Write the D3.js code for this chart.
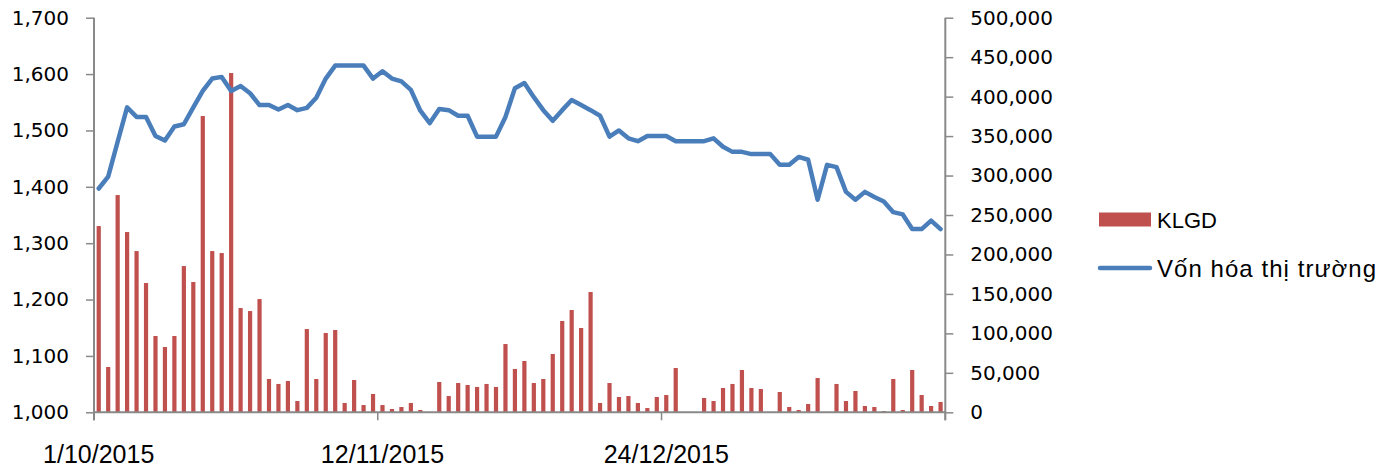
<!DOCTYPE html>
<html>
<head>
<meta charset="utf-8">
<script src="https://cdn.jsdelivr.net/npm/d3@7"></script>
<style>
  body { margin: 0; background: #fff; }
  svg { display: block; }
</style>
</head>
<body>
<svg id="chart" width="1398" height="472"></svg>
<script>
"use strict";

// trading days (category axis)
const dates = [
  "1/10/2015","2/10/2015","5/10/2015","6/10/2015","7/10/2015","8/10/2015","9/10/2015",
  "12/10/2015","13/10/2015","14/10/2015","15/10/2015","16/10/2015","19/10/2015","20/10/2015",
  "21/10/2015","22/10/2015","23/10/2015","26/10/2015","27/10/2015","28/10/2015","29/10/2015",
  "30/10/2015","2/11/2015","3/11/2015","4/11/2015","5/11/2015","6/11/2015","9/11/2015",
  "10/11/2015","11/11/2015","12/11/2015","13/11/2015","16/11/2015","17/11/2015","18/11/2015",
  "19/11/2015","20/11/2015","23/11/2015","24/11/2015","25/11/2015","26/11/2015","27/11/2015",
  "30/11/2015","1/12/2015","2/12/2015","3/12/2015","4/12/2015","7/12/2015","8/12/2015",
  "9/12/2015","10/12/2015","11/12/2015","14/12/2015","15/12/2015","16/12/2015","17/12/2015",
  "18/12/2015","21/12/2015","22/12/2015","23/12/2015","24/12/2015","25/12/2015","28/12/2015",
  "29/12/2015","30/12/2015","31/12/2015","4/1/2016","5/1/2016","6/1/2016","7/1/2016",
  "8/1/2016","11/1/2016","12/1/2016","13/1/2016","14/1/2016","15/1/2016","18/1/2016",
  "19/1/2016","20/1/2016","21/1/2016","22/1/2016","25/1/2016","26/1/2016","27/1/2016",
  "28/1/2016","29/1/2016","1/2/2016","2/2/2016","3/2/2016","4/2/2016"
];

// KLGD (right axis)
const klgd = [
  236000, 57400, 275300, 228400, 204300, 163800, 96700, 82700, 96700, 185300,
  165100, 375400, 204300, 201800, 429900, 132100, 128300, 143500, 42200, 35900,
  39700, 14300, 105500, 42200, 100500, 104300, 11800, 40900, 9200, 23200,
  9200, 4200, 6700, 11800, 2900, 0, 38400, 20600, 37100, 34600,
  32100, 35900, 32100, 86500, 54900, 65000, 37100, 42200, 73900, 115700,
  129600, 106800, 152400, 11800, 37100, 19400, 20600, 11800, 5400, 19400,
  21900, 56100, 0, 0, 18100, 14300, 30800, 35900, 53600, 30800,
  29500, 0, 25700, 6700, 2900, 10500, 43500, 0, 35900, 14300,
  27000, 8000, 6700, 1600, 42200, 2900, 53600, 21900, 8000, 13100
];

// Vốn hóa thị trường (left axis)
const vonHoa = [
  1397, 1418, 1480, 1541, 1524, 1524, 1490, 1482, 1507, 1511,
  1541, 1570, 1592, 1595, 1570, 1579, 1566, 1545, 1545, 1537,
  1545, 1536, 1540, 1558, 1592, 1615, 1615, 1615, 1615, 1592,
  1605, 1592, 1587, 1572, 1535, 1513, 1538, 1536, 1526, 1526,
  1489, 1489, 1489, 1524, 1575, 1584, 1559, 1536, 1517, 1536,
  1554, 1545, 1536, 1526, 1489, 1500, 1486, 1481, 1490, 1490,
  1490, 1481, 1481, 1481, 1481, 1486, 1471, 1462, 1462, 1458,
  1458, 1458, 1439, 1439, 1453, 1448, 1377, 1439, 1435, 1391,
  1377, 1391, 1382, 1374, 1355, 1351, 1325, 1325, 1340, 1325
];

const leftTicks = [1000, 1100, 1200, 1300, 1400, 1500, 1600, 1700];
const rightTicks = [0, 50000, 100000, 150000, 200000, 250000, 300000, 350000, 400000, 450000, 500000];
const labelIdx = [0, 30, 60];
const tickIdx = [0, 30, 60, 90];

const plotL = 94, plotR = 945.3, plotT = 17.7, plotB = 412.3;
const axisColor = "#898989";
const barColor = "#c0504d";
const lineColor = "#4a7ebb";

const svg = d3.select("#chart");

const x = d3.scaleBand()
    .domain(dates)
    .range([plotL, plotR])
    .padding(0);
const yL = d3.scaleLinear().domain([1000, 1700]).range([plotB, plotT]);
const yR = d3.scaleLinear().domain([0, 500000]).range([plotB, plotT]);

const barW = 4.2;

// bars
svg.append("g")
    .selectAll("rect")
    .data(klgd)
    .join("rect")
        .attr("x", (d, i) => x(dates[i]) + x.bandwidth() / 2 - barW / 2)
        .attr("y", d => yR(d))
        .attr("width", barW)
        .attr("height", d => yR(0) - yR(d))
        .attr("fill", barColor);

// left + right axes
const gL = svg.append("g")
    .attr("transform", `translate(${plotL},0)`)
    .call(d3.axisLeft(yL).tickValues(leftTicks).tickFormat(d3.format(",")).tickSize(8).tickPadding(17));
const gR = svg.append("g")
    .attr("transform", `translate(${plotR},0)`)
    .call(d3.axisRight(yR).tickValues(rightTicks).tickFormat(d3.format(",")).tickSize(8).tickPadding(17));

[gL, gR].forEach(g => {
    g.select(".domain").attr("stroke", axisColor).attr("stroke-width", 2)
        .attr("d", `M0,${plotT}V${plotB + 8}`);
    g.selectAll(".tick line").attr("stroke", axisColor).attr("stroke-width", 1.5);
    g.selectAll(".tick text")
        .attr("fill", "#000")
        .style("font-family", "'DejaVu Sans', Verdana, sans-serif")
        .style("font-size", "20px");
});

// x axis
const gX = svg.append("g");
gX.append("line")
    .attr("x1", plotL).attr("x2", plotR)
    .attr("y1", plotB).attr("y2", plotB)
    .attr("stroke", axisColor).attr("stroke-width", 2);
gX.selectAll("line.tk")
    .data(tickIdx)
    .join("line")
        .attr("class", "tk")
        .attr("x1", i => i < dates.length ? x(dates[i]) : plotR)
        .attr("x2", i => i < dates.length ? x(dates[i]) : plotR)
        .attr("y1", plotB)
        .attr("y2", plotB + 8)
        .attr("stroke", axisColor).attr("stroke-width", 1.5);
gX.selectAll("text")
    .data(labelIdx)
    .join("text")
        .attr("x", i => x(dates[i]) + x.bandwidth() / 2)
        .attr("y", 463)
        .attr("text-anchor", "middle")
        .style("font-family", "'Liberation Sans', Arial, sans-serif")
        .style("font-size", "25px")
        .text(i => dates[i]);

// line
const line = d3.line()
    .x((d, i) => x(dates[i]) + x.bandwidth() / 2)
    .y(d => yL(d));
svg.append("path")
    .datum(vonHoa)
    .attr("d", line)
    .attr("fill", "none")
    .attr("stroke", lineColor)
    .attr("stroke-width", 4.5)
    .attr("stroke-linejoin", "round")
    .attr("stroke-linecap", "round");

// legend
const lg = svg.append("g")
    .style("font-family", "'Liberation Sans', Arial, sans-serif");
lg.append("rect")
    .attr("x", 1099).attr("y", 212.5)
    .attr("width", 52).attr("height", 14)
    .attr("fill", barColor);
lg.append("text")
    .attr("x", 1157).attr("y", 227.5)
    .style("font-size", "22px")
    .text("KLGD");
lg.append("line")
    .attr("x1", 1100).attr("x2", 1150)
    .attr("y1", 268).attr("y2", 268)
    .attr("stroke", lineColor).attr("stroke-width", 4.5)
    .attr("stroke-linecap", "round");
lg.append("text")
    .attr("x", 1157).attr("y", 277)
    .style("font-size", "24px")
    .style("letter-spacing", "1.05px")
    .text("Vốn hóa thị trường");
</script>
</body>
</html>
